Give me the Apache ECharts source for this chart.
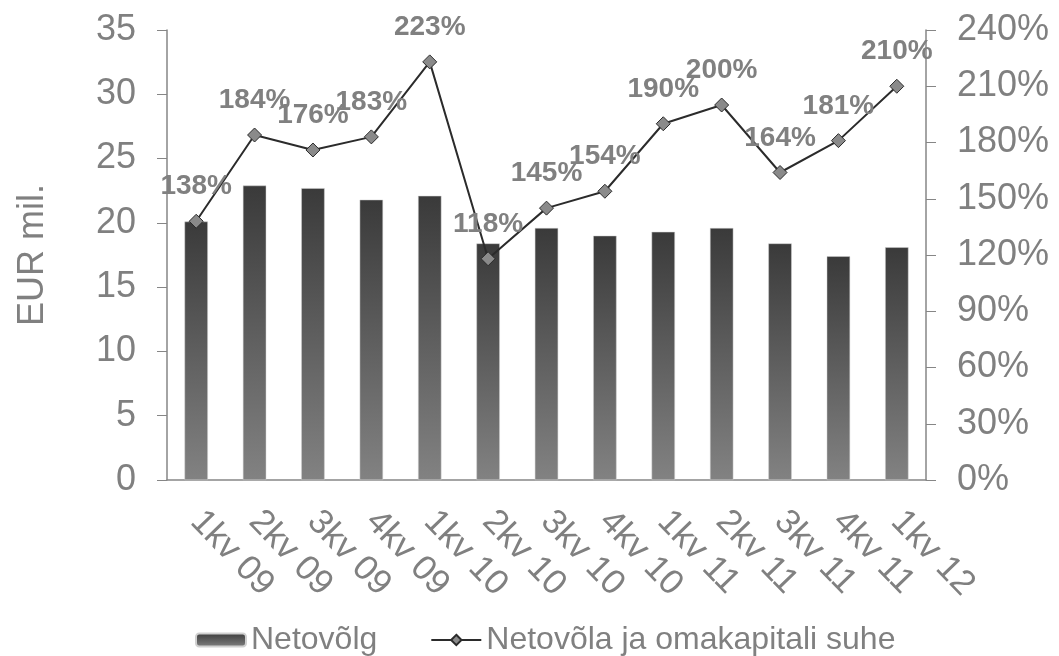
<!DOCTYPE html>
<html>
<head>
<meta charset="utf-8">
<script src="https://cdn.jsdelivr.net/npm/echarts@6/dist/echarts.min.js"></script>
<style>html,body{margin:0;padding:0;background:#fff}#c{width:1059px;height:656px}</style>
</head>
<body>
<div id="c"></div>
<script>
var categories = ['1kv 09','2kv 09','3kv 09','4kv 09','1kv 10','2kv 10','3kv 10','4kv 10','1kv 11','2kv 11','3kv 11','4kv 11','1kv 12'];
var netDebt = [20.1, 22.9, 22.7, 21.8, 22.1, 18.4, 19.6, 19.0, 19.3, 19.6, 18.4, 17.4, 18.1];
var debtEquityRatio = [138, 184, 176, 183, 223, 118, 145, 154, 190, 200, 164, 181, 210];
var leftTicks = {min: 0, max: 35, interval: 5};
var rightTicks = {min: 0, max: 240, interval: 30};

var gray = '#808080';
var font = 'Liberation Sans, Arial, sans-serif';
var chart = echarts.init(document.getElementById('c'));
chart.setOption({
  animation: false,
  textStyle: {fontFamily: font},
  grid: {left: 167, right: 133, top: 30, bottom: 176, containLabel: false},
  legend: {
    top: 619, left: 190,
    itemWidth: 50, itemHeight: 13, itemGap: 53,
    textStyle: {fontSize: 32, color: gray, fontFamily: font},
    data: ['Netovõlg', 'Netovõla ja omakapitali suhe']
  },
  xAxis: {
    type: 'category', data: categories,
    axisLine: {lineStyle: {color: '#868686', width: 1.5}},
    axisTick: {show: false},
    axisLabel: {rotate: -46, fontSize: 35, color: gray, margin: 36, interval: 0, fontFamily: font}
  },
  yAxis: [{
    type: 'value', min: leftTicks.min, max: leftTicks.max, interval: leftTicks.interval,
    name: 'EUR mil.', nameLocation: 'middle', nameGap: 116, nameRotate: 90,
    nameTextStyle: {fontSize: 36, color: gray, fontFamily: font},
    axisLine: {show: true, lineStyle: {color: '#868686', width: 1.5}},
    axisTick: {show: true, length: 10, lineStyle: {color: '#868686'}},
    splitLine: {show: false},
    axisLabel: {fontSize: 36, color: gray, margin: 31, fontFamily: font}
  }, {
    type: 'value', min: rightTicks.min, max: rightTicks.max, interval: rightTicks.interval,
    position: 'right',
    axisLine: {show: true, lineStyle: {color: '#868686', width: 1.5}},
    axisTick: {show: true, length: 10, lineStyle: {color: '#868686'}},
    splitLine: {show: false},
    axisLabel: {fontSize: 36, color: gray, margin: 31, formatter: '{value}%', fontFamily: font}
  }],
  series: [{
    name: 'Netovõlg', type: 'bar', data: netDebt, barWidth: '40%',
    itemStyle: {
      color: new echarts.graphic.LinearGradient(0, 0, 0, 1, [
        {offset: 0, color: '#3a3a3a'}, {offset: 1, color: '#828282'}
      ]),
      borderColor: '#d0d0d0', borderWidth: 0.5
    }
  }, {
    name: 'Netovõla ja omakapitali suhe', type: 'line', yAxisIndex: 1, data: debtEquityRatio,
    symbol: 'diamond', symbolSize: 14,
    lineStyle: {color: '#2b2b2b', width: 2},
    itemStyle: {color: '#8a8a8a', borderColor: '#2b2b2b', borderWidth: 1},
    label: {show: true, position: 'top', distance: 13, formatter: '{c}%', fontSize: 28, fontWeight: 'bold', color: gray, fontFamily: font}
  }]
});
</script>
</body>
</html>
